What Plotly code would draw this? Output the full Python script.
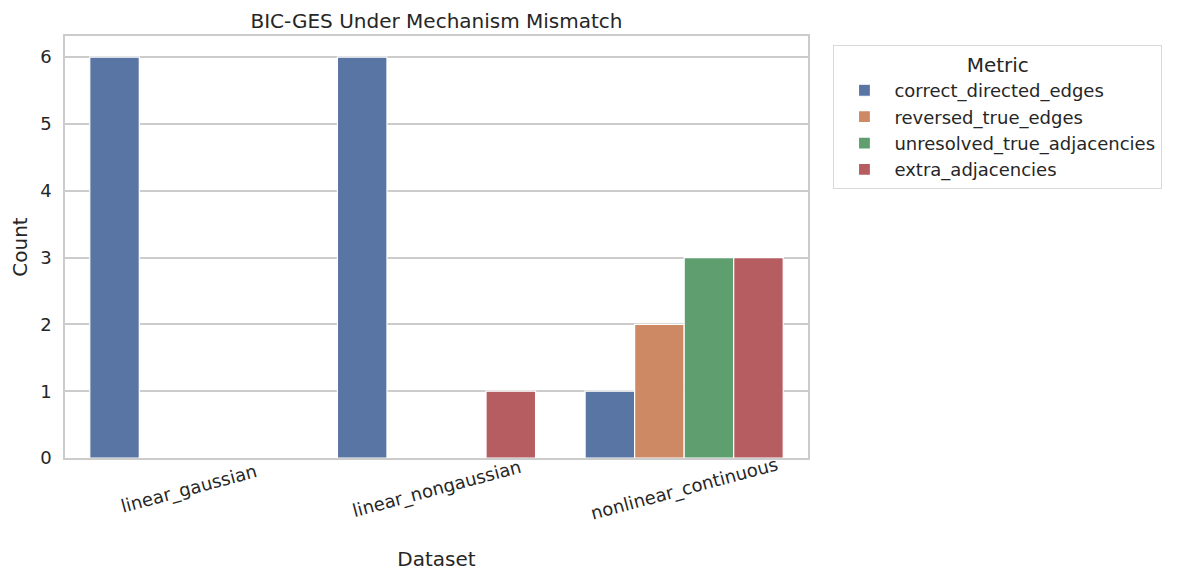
import plotly.graph_objects as go

datasets = ["linear_gaussian", "linear_nongaussian", "nonlinear_continuous"]
metrics = ["correct_directed_edges", "reversed_true_edges",
           "unresolved_true_adjacencies", "extra_adjacencies"]
counts = {
    "correct_directed_edges": [6, 6, 1],
    "reversed_true_edges": [0, 0, 2],
    "unresolved_true_adjacencies": [0, 0, 3],
    "extra_adjacencies": [0, 1, 3],
}
colors = ["#5975a4", "#cc8963", "#5f9e6e", "#b55d60"]

font = "DejaVu Sans, sans-serif"
txt = "#262626"

# page body adds ~8px offset, so the figure is a bit smaller than the window
W, H = 1169, 572
L, R, T, B = 57, 369, 28, 122

fig = go.Figure()
for m, c in zip(metrics, colors):
    fig.add_trace(go.Bar(
        x=datasets, y=counts[m], name=m, legendgroup=m,
        marker=dict(color=c, line=dict(color="white", width=1.2)),
    ))

# rotated, centred category labels (matplotlib style)
for d in datasets:
    fig.add_annotation(
        x=d, y=0, xref="x", yref="paper", yshift=-31,
        xanchor="center", yanchor="middle",
        text=d, showarrow=False, textangle=-15,
        font=dict(family=font, size=18, color=txt),
    )

fig.update_layout(
    width=W, height=H,
    margin=dict(l=L, r=R, t=T, b=B),
    paper_bgcolor="white", plot_bgcolor="white",
    font=dict(family=font, size=18, color=txt),
    barmode="group", bargap=0.2, bargroupgap=0,
    title=dict(text="BIC-GES Under Mechanism Mismatch",
               x=(L + (W - R)) / 2 / W, xanchor="center",
               y=1 - 13 / H, yanchor="middle", automargin=False,
               font=dict(size=20, color=txt)),
    legend=dict(
        title=dict(text="Metric", side="top center",
                   font=dict(size=20, color=txt)),
        x=1.034, xanchor="left", y=0.979, yanchor="top",
        bordercolor="#d9d9d9", borderwidth=1.2,
        font=dict(size=18, color=txt),
        traceorder="grouped", tracegroupgap=0, itemwidth=50,
    ),
    xaxis=dict(
        showticklabels=False, showgrid=False, automargin=False,
        showline=True, linecolor="#cccccc", linewidth=1.5, mirror=True,
        title=dict(text="Dataset", standoff=93, font=dict(size=20)),
    ),
    yaxis=dict(
        range=[0, 6.316], dtick=1, automargin=False,
        showgrid=True, gridcolor="#cccccc", gridwidth=1.5,
        showline=True, linecolor="#cccccc", linewidth=1.5, mirror=True,
        zeroline=False, ticks="", ticklen=0, ticklabelstandoff=8,
        tickfont=dict(size=18, color=txt),
        title=dict(text="Count", standoff=8, font=dict(size=20)),
    ),
)

fig.write_html("out.html")
